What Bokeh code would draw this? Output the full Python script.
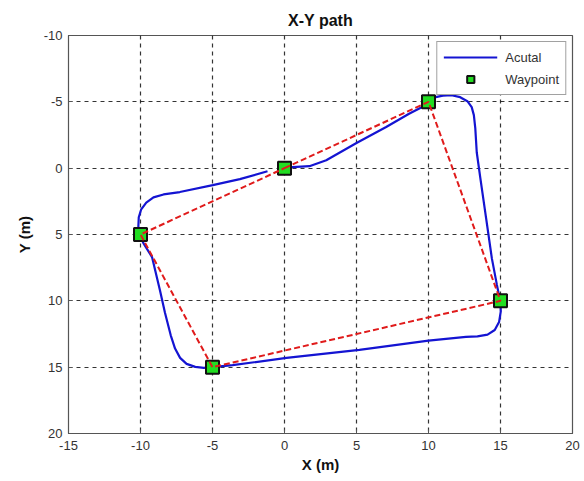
from bokeh.plotting import figure
from bokeh.models import Range1d, FixedTicker, Legend, LegendItem, PrintfTickFormatter
from bokeh.embed import file_html
from bokeh.resources import INLINE

# Waypoints (X, Y in metres)
wp_x = [0, 10, 15, -5, -10]
wp_y = [0, -5, 10, 15, 5]

# Planned (dashed) path: waypoints in order, closed
plan_x = [0, 10, 15, -5, -10, 0]
plan_y = [0, -5, 10, 15, 5, 0]

actual_x = [0.0, 0.55, 1.73, 2.9, 5.0, 7.06, 8.65, 9.8, 10.1, 10.5, 11.0, 11.6, 12.2, 12.7,
            13.0, 13.15, 13.25, 13.35, 13.6, 14.0, 14.4, 14.75, 14.9, 15.0, 15.02, 14.9,
            14.6, 14.1, 13.4, 12.6, 10.0, 5.2, 0.14, -3.6, -5.0, -5.6, -6.2, -6.8, -7.25,
            -7.6, -7.9, -8.3, -8.65, -9.2, -9.8, -10.05, -10.15, -10.12, -9.95, -9.6, -9.1,
            -8.4, -7.27, -4.98, -3.1, -1.18]
actual_y = [0.0, -0.08, -0.15, -0.6, -1.9, -3.1, -4.1, -4.75, -5.1, -5.35, -5.47, -5.5, -5.35,
            -5.05, -4.6, -4.0, -3.0, -1.2, 0.75, 3.77, 6.8, 8.8, 9.6, 10.1, 10.8, 11.6,
            12.2, 12.55, 12.68, 12.72, 13.0, 13.7, 14.3, 14.85, 15.0, 15.05, 14.98, 14.75, 14.3,
            13.6, 12.6, 10.9, 9.2, 6.7, 5.65, 5.05, 4.4, 3.7, 3.1, 2.6, 2.2,
            1.98, 1.8, 1.28, 0.83, 0.23]

x_ticks = [-15, -10, -5, 0, 5, 10, 15, 20]
y_ticks = [-10, -5, 0, 5, 10, 15, 20]

FONT = "Liberation Sans"

p = figure(width=584, height=481, output_backend="svg", toolbar_location=None,
           x_range=Range1d(-15, 20), y_range=Range1d(20, -10),
           title="X-Y path", min_border_left=68, min_border_right=12,
           min_border_top=35, min_border_bottom=48)

p.title.align = "center"
p.title.text_font = FONT
p.title.text_font_size = "16px"
p.title.text_font_style = "bold"
p.title.text_color = "#111111"
p.title.standoff = 14

p.outline_line_color = "#555555"
p.outline_line_width = 1.2

for ax, ticks in ((p.xaxis, x_ticks), (p.yaxis, y_ticks)):
    ax.ticker = FixedTicker(ticks=ticks)
    ax.formatter = PrintfTickFormatter(format="%d")
    ax.major_tick_in = 4
    ax.major_tick_out = 0
    ax.minor_tick_line_color = None
    ax.axis_line_color = "#555555"
    ax.major_tick_line_color = "#555555"
    ax.major_label_text_font = FONT
    ax.major_label_text_font_size = "13px"
    ax.major_label_text_color = "#333333"
    ax.axis_label_text_font = FONT
    ax.axis_label_text_font_size = "15px"
    ax.axis_label_text_font_style = "bold"
    ax.axis_label_text_color = "#111111"

p.xaxis.axis_label = "X (m)"
p.yaxis.axis_label = "Y (m)"
p.xaxis.major_label_standoff = 7
p.xaxis.axis_label_standoff = 3
p.yaxis.major_label_standoff = 6
p.yaxis.axis_label_standoff = 8

p.xgrid.ticker = FixedTicker(ticks=[-10, -5, 0, 5, 10, 15])
p.ygrid.ticker = FixedTicker(ticks=[-5, 0, 5, 10, 15])
for g in (p.xgrid, p.ygrid):
    g.grid_line_color = "#111111"
    g.grid_line_alpha = 0.85
    g.grid_line_dash = "4 4"
    g.grid_line_width = 1.2

blue = p.line(actual_x, actual_y, line_color="#1414d2", line_width=2.2)
pts = p.scatter(wp_x, wp_y, marker="square", size=13, fill_color="#22dd22",
                line_color="#111111", line_width=2)
p.line(plan_x, plan_y, line_color="#e01b1b", line_width=2, line_dash="6 3")

legend = Legend(items=[LegendItem(label="Acutal", renderers=[blue]),
                       LegendItem(label="Waypoint", renderers=[pts])],
                location="top_right")
legend.label_text_font = FONT
legend.label_text_font_size = "13px"
legend.label_text_color = "#333333"
legend.glyph_width = 54
legend.glyph_height = 18
legend.label_standoff = 8
legend.spacing = 4
legend.padding = 6
legend.margin = 6
legend.border_line_color = "#444444"
legend.border_line_width = 1.2
legend.background_fill_alpha = 1.0
p.add_layout(legend)

open("out.html", "w").write(file_html(p, INLINE))
